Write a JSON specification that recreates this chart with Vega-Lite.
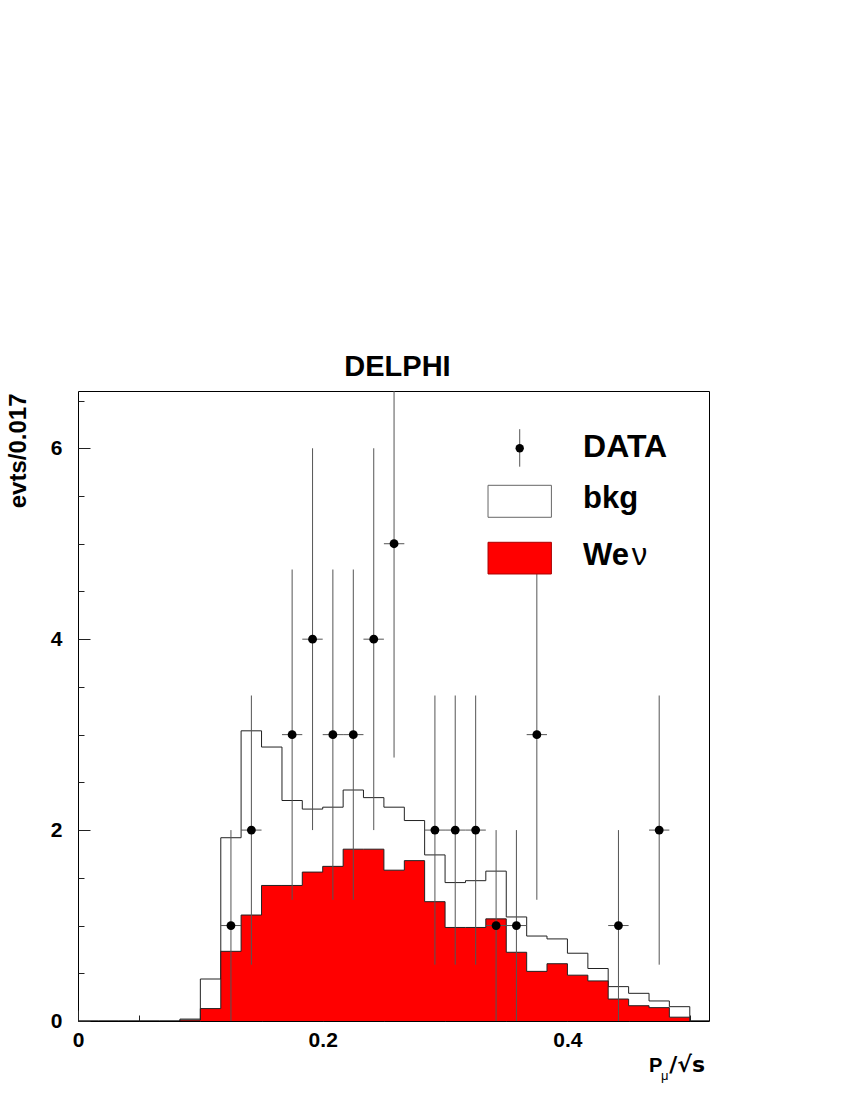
{
  "$schema": "https://vega.github.io/schema/vega-lite/v6.json",
  "autosize": {"type": "none"},
  "padding": {"left": 78, "top": 391, "right": 141, "bottom": 79},
  "width": 631,
  "height": 630,
  "config": {
    "view": {"stroke": "black", "strokeWidth": 1},
    "font": "Liberation Sans"
  },
  "title": {"text": "DELPHI", "font": "Liberation Sans", "fontSize": 29, "fontWeight": "bold", "color": "black", "anchor": "middle", "baseline": "alphabetic", "offset": -15, "dx": 4},
  "data": {"values": [{}]},
  "datasets": {
    "hist": [
      {"lo": 0, "hi": 0.0167, "tot": 0, "sig": 0},
      {"lo": 0.0167, "hi": 0.0333, "tot": 0, "sig": 0},
      {"lo": 0.0333, "hi": 0.05, "tot": 0, "sig": 0},
      {"lo": 0.05, "hi": 0.0667, "tot": 0, "sig": 0},
      {"lo": 0.0667, "hi": 0.0833, "tot": 0, "sig": 0},
      {"lo": 0.0833, "hi": 0.1, "tot": 0.02, "sig": 0.01},
      {"lo": 0.1, "hi": 0.1167, "tot": 0.44, "sig": 0.13},
      {"lo": 0.1167, "hi": 0.1333, "tot": 1.92, "sig": 0.73},
      {"lo": 0.1333, "hi": 0.15, "tot": 3.04, "sig": 1.11},
      {"lo": 0.15, "hi": 0.1667, "tot": 2.87, "sig": 1.42},
      {"lo": 0.1667, "hi": 0.1833, "tot": 2.31, "sig": 1.42},
      {"lo": 0.1833, "hi": 0.2, "tot": 2.22, "sig": 1.56},
      {"lo": 0.2, "hi": 0.2167, "tot": 2.24, "sig": 1.62},
      {"lo": 0.2167, "hi": 0.2333, "tot": 2.42, "sig": 1.8},
      {"lo": 0.2333, "hi": 0.25, "tot": 2.34, "sig": 1.8},
      {"lo": 0.25, "hi": 0.2667, "tot": 2.24, "sig": 1.58},
      {"lo": 0.2667, "hi": 0.2833, "tot": 2.1, "sig": 1.68},
      {"lo": 0.2833, "hi": 0.3, "tot": 1.74, "sig": 1.25},
      {"lo": 0.3, "hi": 0.3167, "tot": 1.45, "sig": 0.98},
      {"lo": 0.3167, "hi": 0.3333, "tot": 1.47, "sig": 0.98},
      {"lo": 0.3333, "hi": 0.35, "tot": 1.57, "sig": 1.07},
      {"lo": 0.35, "hi": 0.3667, "tot": 1.09, "sig": 0.72},
      {"lo": 0.3667, "hi": 0.3833, "tot": 0.89, "sig": 0.52},
      {"lo": 0.3833, "hi": 0.4, "tot": 0.86, "sig": 0.6},
      {"lo": 0.4, "hi": 0.4167, "tot": 0.71, "sig": 0.48},
      {"lo": 0.4167, "hi": 0.4333, "tot": 0.55, "sig": 0.42},
      {"lo": 0.4333, "hi": 0.45, "tot": 0.36, "sig": 0.23},
      {"lo": 0.45, "hi": 0.4667, "tot": 0.29, "sig": 0.16},
      {"lo": 0.4667, "hi": 0.4833, "tot": 0.21, "sig": 0.14},
      {"lo": 0.4833, "hi": 0.5, "tot": 0.15, "sig": 0.04},
      {"lo": 0.5, "hi": 0.5167, "tot": 0, "sig": 0}
    ],
    "pts": [
      {"x": 0.125, "lo": 0.1167, "hi": 0.1333, "n": 1, "elo": 0, "ehi": 2},
      {"x": 0.1417, "lo": 0.1333, "hi": 0.15, "n": 2, "elo": 0.59, "ehi": 3.41},
      {"x": 0.175, "lo": 0.1667, "hi": 0.1833, "n": 3, "elo": 1.27, "ehi": 4.73},
      {"x": 0.1917, "lo": 0.1833, "hi": 0.2, "n": 4, "elo": 2, "ehi": 6},
      {"x": 0.2083, "lo": 0.2, "hi": 0.2167, "n": 3, "elo": 1.27, "ehi": 4.73},
      {"x": 0.225, "lo": 0.2167, "hi": 0.2333, "n": 3, "elo": 1.27, "ehi": 4.73},
      {"x": 0.2417, "lo": 0.2333, "hi": 0.25, "n": 4, "elo": 2, "ehi": 6},
      {"x": 0.2583, "lo": 0.25, "hi": 0.2667, "n": 5, "elo": 2.76, "ehi": 7.24},
      {"x": 0.2917, "lo": 0.2833, "hi": 0.3, "n": 2, "elo": 0.59, "ehi": 3.41},
      {"x": 0.3083, "lo": 0.3, "hi": 0.3167, "n": 2, "elo": 0.59, "ehi": 3.41},
      {"x": 0.325, "lo": 0.3167, "hi": 0.3333, "n": 2, "elo": 0.59, "ehi": 3.41},
      {"x": 0.3417, "lo": 0.3333, "hi": 0.35, "n": 1, "elo": 0, "ehi": 2},
      {"x": 0.3583, "lo": 0.35, "hi": 0.3667, "n": 1, "elo": 0, "ehi": 2},
      {"x": 0.375, "lo": 0.3667, "hi": 0.3833, "n": 3, "elo": 1.27, "ehi": 4.73},
      {"x": 0.4417, "lo": 0.4333, "hi": 0.45, "n": 1, "elo": 0, "ehi": 2},
      {"x": 0.475, "lo": 0.4667, "hi": 0.4833, "n": 2, "elo": 0.59, "ehi": 3.41}
    ]
  },
  "layer": [
    {
      "data": {"name": "hist"},
      "transform": [{"fold": ["lo", "hi"], "as": ["edge", "x"]}],
      "mark": {"type": "line", "color": "#222222", "strokeWidth": 1, "clip": true},
      "encoding": {
        "x": {"field": "x", "type": "quantitative",
          "scale": {"domain": [0, 0.5157], "nice": false, "zero": false},
          "axis": {
            "title": null, "domain": false, "grid": false,
            "values": [0, 0.05, 0.1, 0.15, 0.2, 0.25, 0.3, 0.35, 0.4, 0.45, 0.5],
            "labelExpr": "datum.value == 0 ? '0' : datum.value == 0.2 ? '0.2' : datum.value == 0.4 ? '0.4' : ''",
            "tickSize": {"condition": {"test": "datum.value == 0 || datum.value == 0.2 || datum.value == 0.4", "value": -11}, "value": -6},
            "tickColor": "#222222", "tickWidth": 1,
            "labelFont": "Liberation Sans", "labelFontWeight": "bold", "labelFontSize": 21, "labelColor": "black",
            "labelPadding": 19, "labelFlush": false, "labelOverlap": false, "labelBound": false
          }
        },
        "y": {"field": "tot", "type": "quantitative",
          "scale": {"domain": [0, 6.6], "nice": false, "zero": false},
          "axis": {
            "title": "evts/0.017", "domain": false, "grid": false,
            "values": [0, 0.5, 1, 1.5, 2, 2.5, 3, 3.5, 4, 4.5, 5, 5.5, 6, 6.5],
            "labelExpr": "datum.value % 2 == 0 ? toString(datum.value) : ''",
            "tickSize": {"condition": {"test": "datum.value % 2 == 0", "value": -12}, "value": -6},
            "tickColor": "#222222", "tickWidth": 1,
            "labelFont": "Liberation Sans", "labelFontWeight": "bold", "labelFontSize": 21, "labelColor": "black",
            "labelPadding": 28, "labelFlush": false, "labelOverlap": false, "labelBound": false,
            "titleFont": "Liberation Sans", "titleFontWeight": "bold", "titleFontSize": 24, "titleColor": "black",
            "titleAngle": -90, "titleX": -53, "titleY": 2, "titleAlign": "right", "titleBaseline": "alphabetic"
          }
        },
        "order": [{"field": "lo", "type": "quantitative"}, {"field": "x", "type": "quantitative"}]
      }
    },
    {
      "data": {"name": "hist"},
      "transform": [{"fold": ["lo", "hi"], "as": ["edge", "x"]}],
      "mark": {"type": "area", "color": "red", "clip": true},
      "encoding": {
        "x": {"field": "x", "type": "quantitative"},
        "y": {"field": "sig", "type": "quantitative", "stack": null}
      }
    },
    {
      "data": {"name": "hist"},
      "transform": [{"fold": ["lo", "hi"], "as": ["edge", "x"]}],
      "mark": {"type": "line", "color": "#222222", "strokeWidth": 1, "clip": true},
      "encoding": {
        "x": {"field": "x", "type": "quantitative"},
        "y": {"field": "sig", "type": "quantitative"},
        "order": [{"field": "lo", "type": "quantitative"}, {"field": "x", "type": "quantitative"}]
      }
    },
    {
      "data": {"name": "pts"},
      "mark": {"type": "rule", "color": "#555555", "strokeWidth": 1, "clip": true},
      "encoding": {
        "x": {"field": "x", "type": "quantitative"},
        "y": {"field": "elo", "type": "quantitative"},
        "y2": {"field": "ehi"}
      }
    },
    {
      "data": {"name": "pts"},
      "mark": {"type": "rule", "color": "#555555", "strokeWidth": 1, "clip": true},
      "encoding": {
        "x": {"field": "lo", "type": "quantitative"},
        "x2": {"field": "hi"},
        "y": {"field": "n", "type": "quantitative"}
      }
    },
    {
      "data": {"name": "pts"},
      "mark": {"type": "circle", "color": "black", "opacity": 1, "size": 78},
      "encoding": {
        "x": {"field": "x", "type": "quantitative"},
        "y": {"field": "n", "type": "quantitative"}
      }
    },
    {
      "mark": {"type": "rule", "color": "#555555", "strokeWidth": 1},
      "encoding": {
        "x": {"datum": 0.361, "type": "quantitative"},
        "y": {"datum": 5.807, "type": "quantitative"},
        "y2": {"datum": 6.2}
      }
    },
    {
      "mark": {"type": "circle", "color": "black", "opacity": 1, "size": 70},
      "encoding": {
        "x": {"datum": 0.361, "type": "quantitative"},
        "y": {"datum": 6.0, "type": "quantitative"}
      }
    },
    {
      "mark": {"type": "rect", "fill": "white", "stroke": "#666666", "strokeWidth": 1},
      "encoding": {
        "x": {"datum": 0.3351, "type": "quantitative"},
        "x2": {"datum": 0.3869},
        "y": {"datum": 5.277, "type": "quantitative"},
        "y2": {"datum": 5.612}
      }
    },
    {
      "mark": {"type": "rect", "fill": "red", "stroke": "#aa0000", "strokeWidth": 1},
      "encoding": {
        "x": {"datum": 0.3351, "type": "quantitative"},
        "x2": {"datum": 0.3869},
        "y": {"datum": 4.683, "type": "quantitative"},
        "y2": {"datum": 5.015}
      }
    },
    {
      "mark": {"type": "text", "text": "DATA", "font": "Liberation Sans", "fontWeight": "bold", "fontSize": 32, "color": "black", "align": "left", "baseline": "alphabetic", "letterSpacing": 2.5},
      "encoding": {
        "x": {"datum": 0.4128, "type": "quantitative"},
        "y": {"datum": 5.909, "type": "quantitative"}
      }
    },
    {
      "mark": {"type": "text", "text": "bkg", "font": "Liberation Sans", "fontWeight": "bold", "fontSize": 31, "color": "black", "align": "left", "baseline": "alphabetic"},
      "encoding": {
        "x": {"datum": 0.4128, "type": "quantitative"},
        "y": {"datum": 5.374, "type": "quantitative"}
      }
    },
    {
      "mark": {"type": "text", "text": "We", "font": "Liberation Sans", "fontWeight": "bold", "fontSize": 31, "color": "black", "align": "left", "baseline": "alphabetic"},
      "encoding": {
        "x": {"datum": 0.4128, "type": "quantitative"},
        "y": {"datum": 4.777, "type": "quantitative"}
      }
    },
    {
      "mark": {"type": "text", "text": "ν", "font": "Liberation Sans", "fontWeight": "normal", "fontSize": 31, "color": "black", "align": "left", "baseline": "alphabetic"},
      "encoding": {
        "x": {"datum": 0.4525, "type": "quantitative"},
        "y": {"datum": 4.777, "type": "quantitative"}
      }
    },
    {
      "mark": {"type": "text", "text": "P", "font": "Liberation Sans", "fontWeight": "bold", "fontSize": 20, "color": "black", "align": "left", "baseline": "alphabetic"},
      "encoding": {
        "x": {"datum": 0.4667, "type": "quantitative"},
        "y": {"datum": -0.538, "type": "quantitative"}
      }
    },
    {
      "mark": {"type": "text", "text": "μ", "font": "Liberation Sans", "fontWeight": "normal", "fontSize": 13, "color": "black", "align": "left", "baseline": "alphabetic"},
      "encoding": {
        "x": {"datum": 0.4765, "type": "quantitative"},
        "y": {"datum": -0.62, "type": "quantitative"}
      }
    },
    {
      "mark": {"type": "text", "text": "/√s", "font": "DejaVu Sans", "fontWeight": "bold", "fontSize": 22, "color": "black", "align": "left", "baseline": "alphabetic"},
      "encoding": {
        "x": {"datum": 0.4832, "type": "quantitative"},
        "y": {"datum": -0.538, "type": "quantitative"}
      }
    }
  ]
}
